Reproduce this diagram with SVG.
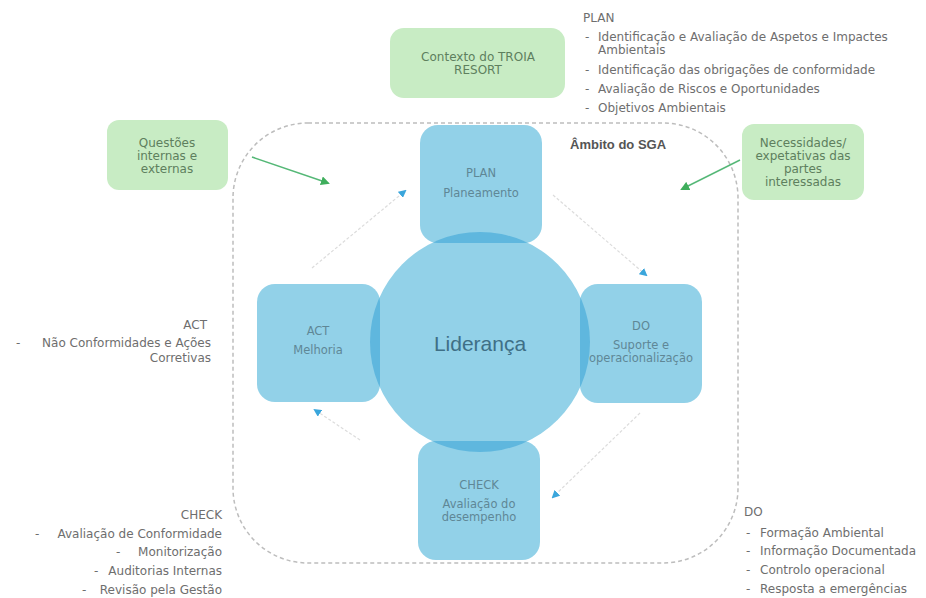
<svg xmlns="http://www.w3.org/2000/svg" width="926" height="598" viewBox="0 0 926 598">
<style>
.t{font-family:"DejaVu Sans","Liberation Sans",sans-serif;fill:#6e6e6e;font-size:12px}
.b{font-family:"DejaVu Sans","Liberation Sans",sans-serif;fill:#5f8796;font-size:11.5px;text-anchor:middle}
.g{font-family:"DejaVu Sans","Liberation Sans",sans-serif;fill:#5e7f5e;font-size:12px;text-anchor:middle}
.box{fill:#92d1e8}
.lens{fill:#5fb7de}
.green{fill:#c8ecc4}
.conn{stroke:#dcdcdc;stroke-width:1.2;fill:none;stroke-dasharray:3 2}
.garr{stroke:#55b877;stroke-width:1.5;fill:none}
</style>
<defs>
<marker id="ab" markerWidth="8" markerHeight="8" refX="6" refY="4" orient="auto" markerUnits="userSpaceOnUse"><path d="M0,0 L8,4 L0,8 z" fill="#3aa6dc"/></marker>
<marker id="ag" markerWidth="9" markerHeight="9" refX="7" refY="4.5" orient="auto" markerUnits="userSpaceOnUse"><path d="M0,0 L9,4.5 L0,9 z" fill="#3fae5c"/></marker>
<clipPath id="cc"><circle cx="480" cy="342" r="110"/></clipPath>
</defs>
<rect x="0" y="0" width="926" height="598" fill="#ffffff"/>
<g id="scope">
<rect x="233" y="123" width="505" height="440" rx="75" fill="none" stroke="#bdbdbd" stroke-width="1.5" stroke-dasharray="4 3"/>
<text x="570" y="149" font-family="Liberation Sans,Arial,sans-serif" font-size="13" font-weight="bold" fill="#555">Âmbito do SGA</text>
</g>
<g id="lideranca">
<circle cx="480" cy="342" r="110" fill="#92d1e8"/>
<text x="480" y="351" font-family="Liberation Sans,Arial,sans-serif" font-size="21" fill="#3f6f86" text-anchor="middle">Liderança</text>
</g>
<g id="plan">
<rect class="box" x="420" y="125" width="122" height="118" rx="18"/>
<rect class="lens" x="420" y="125" width="122" height="118" rx="18" clip-path="url(#cc)"/>
<text class="b" x="481" y="177">PLAN</text>
<text class="b" x="481" y="197">Planeamento</text>
</g>
<g id="do">
<rect class="box" x="580" y="284" width="122" height="119" rx="18"/>
<rect class="lens" x="580" y="284" width="122" height="119" rx="18" clip-path="url(#cc)"/>
<text class="b" x="641" y="330">DO</text>
<text class="b" x="641" y="349">Suporte e</text>
<text class="b" x="641" y="362">operacionalização</text>
</g>
<g id="act">
<rect class="box" x="257" y="284" width="123" height="118" rx="18"/>
<rect class="lens" x="257" y="284" width="123" height="118" rx="18" clip-path="url(#cc)"/>
<text class="b" x="318" y="335">ACT</text>
<text class="b" x="318" y="354">Melhoria</text>
</g>
<g id="check">
<rect class="box" x="418" y="441" width="122" height="119" rx="18"/>
<rect class="lens" x="418" y="441" width="122" height="119" rx="18" clip-path="url(#cc)"/>
<text class="b" x="479" y="489">CHECK</text>
<text class="b" x="479" y="508">Avaliação do</text>
<text class="b" x="479" y="521">desempenho</text>
</g>
<g id="contexto">
<rect class="green" x="390" y="28" width="175" height="70" rx="14"/>
<text class="g" x="478" y="61">Contexto do TROIA</text>
<text class="g" x="478" y="74">RESORT</text>
</g>
<g id="questoes">
<rect class="green" x="107" y="120" width="121" height="70" rx="12"/>
<text class="g" x="167" y="147">Questões</text>
<text class="g" x="167" y="160">internas e</text>
<text class="g" x="167" y="173">externas</text>
</g>
<g id="necessidades">
<rect class="green" x="742" y="124" width="122" height="76" rx="12"/>
<text class="g" x="803" y="147" fill="#4d7f72">Necessidades/</text>
<text class="g" x="803" y="160">expetativas das</text>
<text class="g" x="803" y="173">partes</text>
<text class="g" x="803" y="186">interessadas</text>
</g>
<g id="connectors">
<path class="conn" d="M312,268 L405,191" marker-end="url(#ab)"/>
<path class="conn" d="M553,195 L646,275" marker-end="url(#ab)"/>
<path class="conn" d="M640,413 L553,497" marker-end="url(#ab)"/>
<path class="conn" d="M360,440 L315,410" marker-end="url(#ab)"/>
<path class="garr" d="M252,157 L328,183" marker-end="url(#ag)"/>
<path class="garr" d="M740,160 L682,189" marker-end="url(#ag)"/>
</g>
<g id="plan-list">
<text class="t" x="583" y="22">PLAN</text>
<text class="t" x="585" y="41">-</text><text class="t" x="598" y="41">Identificação e Avaliação de Aspetos e Impactes</text>
<text class="t" x="598" y="54">Ambientais</text>
<text class="t" x="585" y="74">-</text><text class="t" x="598" y="74">Identificação das obrigações de conformidade</text>
<text class="t" x="585" y="93">-</text><text class="t" x="598" y="93">Avaliação de Riscos e Oportunidades</text>
<text class="t" x="585" y="112">-</text><text class="t" x="598" y="112">Objetivos  Ambientais</text>
</g>
<g id="act-list">
<text class="t" x="207" y="329" text-anchor="end">ACT</text>
<text class="t" x="16" y="347">-</text>
<text class="t" x="211" y="347" text-anchor="end">Não Conformidades e Ações</text>
<text class="t" x="211" y="362" text-anchor="end">Corretivas</text>
</g>
<g id="check-list">
<text class="t" x="222" y="519" text-anchor="end">CHECK</text>
<text class="t" x="35" y="538">-</text>
<text class="t" x="222" y="538" text-anchor="end">Avaliação de Conformidade</text>
<text class="t" x="116" y="556">-</text>
<text class="t" x="222" y="556" text-anchor="end">Monitorização</text>
<text class="t" x="94" y="575">-</text>
<text class="t" x="222" y="575" text-anchor="end">Auditorias Internas</text>
<text class="t" x="82" y="594">-</text>
<text class="t" x="222" y="594" text-anchor="end">Revisão pela Gestão</text>
</g>
<g id="do-list">
<text class="t" x="744" y="516">DO</text>
<text class="t" x="746" y="537">-</text><text class="t" x="760" y="537">Formação Ambiental</text>
<text class="t" x="746" y="555">-</text><text class="t" x="760" y="555">Informação Documentada</text>
<text class="t" x="746" y="574">-</text><text class="t" x="760" y="574">Controlo operacional</text>
<text class="t" x="746" y="593">-</text><text class="t" x="760" y="593">Resposta a emergências</text>
</g>
</svg>
